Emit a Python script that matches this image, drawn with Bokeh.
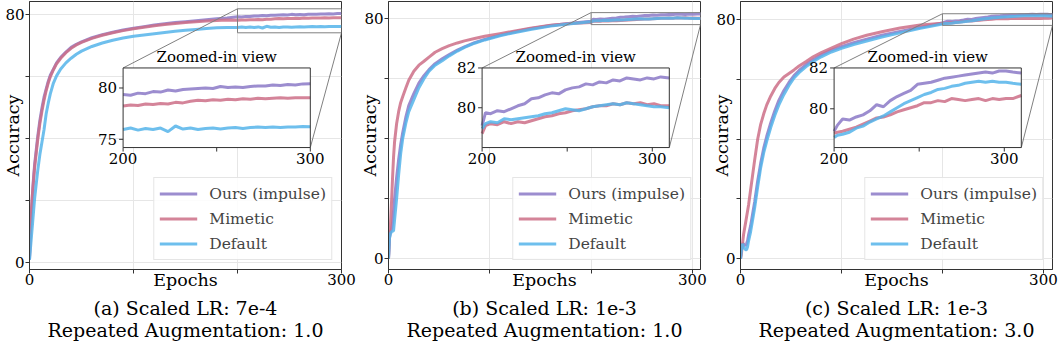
from bokeh.plotting import figure
from bokeh.models import Range1d, FixedTicker, Legend, LegendItem
from bokeh.layouts import row, column
from bokeh.embed import file_html
from bokeh.resources import INLINE
from bokeh.core.properties import value

FONT = "DejaVu Serif"
LABELS = ["Ours (impulse)", "Mimetic", "Default"]
COLORS = ["#8b79c7", "#cc6e87", "#55b4ea"]

# ---------------- panel (a) ----------------
a_epochs = [0, 1, 2, 3, 4, 5, 6, 7, 8, 10, 12, 14, 16, 18, 20, 23, 26, 30, 35, 40, 45, 50,
            60, 70, 80, 90, 100, 110, 120, 130, 140, 150, 160, 170, 180, 190,
            200, 204, 208, 212, 216, 220, 224, 228, 232, 236, 240, 244, 248, 252, 256,
            260, 264, 268, 272, 276, 280, 284, 288, 292, 296, 300]
a_ours = [1, 10, 17, 23, 28, 32, 35, 38, 41, 46, 50, 53.5, 56, 58.5, 60.5, 62.5, 64.5, 66.3, 68, 69.5, 70.5, 71.3,
          72.6, 73.6, 74.4, 75.1, 75.7, 76.2, 76.7, 77.1, 77.5, 77.8, 78.1, 78.4, 78.7, 79.0,
          79.36, 79.3, 79.5, 79.45, 79.65, 79.6, 79.8, 79.7, 79.85, 79.9, 79.95, 80.0, 79.95, 80.15, 80.05,
          80.1, 80.05, 80.15, 80.2, 80.2, 80.3, 80.25, 80.35, 80.3, 80.4, 80.42]
a_mimetic = [2, 11, 18, 23, 27, 31, 34, 37, 40, 45, 49, 52.5, 55.5, 58, 60, 62.3, 64.2, 66, 67.8, 69.2, 70.3, 71.1,
             72.4, 73.4, 74.2, 74.9, 75.5, 76.0, 76.5, 76.9, 77.2, 77.5, 77.8, 78.0, 78.2, 78.3,
             78.25, 78.35, 78.3, 78.45, 78.4, 78.5, 78.45, 78.6, 78.55, 78.7, 78.8, 78.75, 78.85, 78.8, 78.9,
             78.85, 78.95, 78.9, 79.0, 78.95, 79.0, 79.05, 79.0, 79.05, 79.05, 79.05]
a_default = [1, 5, 9, 13, 17, 21, 24, 27, 30, 35, 39, 43, 48, 51.5, 54.5, 58, 60.3, 62.5, 64.5, 66, 67.3, 68.3,
             69.8, 70.9, 71.8, 72.5, 73.1, 73.5, 73.9, 74.3, 74.7, 75.0, 75.3, 75.6, 75.8, 75.9,
             75.95, 76.1, 75.9, 76.05, 75.95, 76.1, 75.75, 76.3, 76.0, 76.1, 75.95, 76.05, 76.1, 76.0, 76.1,
             76.15, 76.05, 76.15, 76.2, 76.15, 76.2, 76.15, 76.2, 76.2, 76.25, 76.23]

# ---------------- panel (b) ----------------
b_epochs = [0, 1, 2, 3, 4, 5, 6, 8, 10, 12, 14, 17, 20, 25, 30, 35, 40, 46, 53, 60, 68, 75, 85, 95,
            110, 125, 140, 160, 180,
            200, 202, 205, 209, 213, 217, 221, 225, 229, 233, 237, 241, 245, 249, 253, 257,
            261, 265, 269, 273, 277, 281, 285, 289, 293, 297, 301, 305, 310]
b_ours = [0, 7, 9, 10, 12, 16, 20, 27, 33, 38, 42, 47, 51, 55, 58.5, 61, 63, 65, 66.6, 68, 69.5, 70.6, 72, 73.1,
          74.5, 75.6, 76.6, 77.7, 78.5,
          79.1, 79.75, 79.7, 79.85, 79.8, 79.95, 80.1, 80.2, 80.45, 80.5, 80.65, 80.75, 80.7, 80.9, 81.0, 81.05,
          81.2, 81.15, 81.3, 81.25, 81.4, 81.35, 81.5, 81.45, 81.4, 81.5, 81.45, 81.55, 81.5]
b_mimetic = [0, 8, 12, 19, 27, 34, 39, 45, 49, 52, 54, 56.8, 59.5, 62.5, 64.5, 65.8, 67.2, 68.8, 70, 71, 71.9, 72.6, 73.4, 74.1,
             75.0, 75.9, 76.8, 77.8, 78.4,
             78.7, 79.1, 79.2, 79.15, 79.3, 79.2, 79.3, 79.25, 79.35, 79.45, 79.55, 79.6, 79.7, 79.75, 79.85, 79.9,
             79.95, 80.05, 80.1, 80.1, 80.2, 80.15, 80.25, 80.2, 80.25, 80.15, 80.2, 80.1, 80.1]
b_default = [0, 7, 8.5, 9, 9.2, 9.4, 13, 20, 28, 35, 40, 45, 49, 53, 57, 60, 62.5, 64.5, 66, 67.6, 69.2, 70.4, 71.8, 72.9,
             74.3, 75.4, 76.4, 77.5, 78.3,
             78.95, 79.2, 79.3, 79.25, 79.45, 79.4, 79.45, 79.5, 79.55, 79.6, 79.7, 79.75, 79.85, 79.95, 79.9, 79.85,
             79.95, 80.05, 80.1, 80.15, 80.2, 80.15, 80.25, 80.2, 80.15, 80.1, 80.05, 80.05, 80.0]

# ---------------- panel (c) ----------------
c_epochs = [0, 1, 2, 3, 4, 5, 6, 7, 8, 10, 12, 14, 17, 20, 23, 26, 30, 34, 38, 43, 48, 53, 58, 65, 72, 80, 90,
            100, 112, 125, 140, 158, 178,
            200, 202, 205, 209, 213, 217, 221, 225, 229, 233, 237, 241, 245, 249, 253, 257,
            261, 265, 269, 273, 277, 281, 285, 289, 293, 297, 301, 305, 310]
c_ours = [0, 3, 5, 5, 4.5, 4.5, 5, 6, 8, 11, 15, 19, 26, 32, 37, 41, 45.5, 49.5, 53, 56.3, 59, 61.3, 63, 65, 66.6, 68.2, 69.8,
          71, 72.3, 73.5, 74.8, 76.1, 77.5,
          78.9, 79.2, 79.5, 79.45, 79.6, 79.7, 79.9, 80.2, 80.1, 80.4, 80.6, 80.75, 80.9, 81.2, 81.25, 81.3,
          81.4, 81.5, 81.55, 81.6, 81.65, 81.7, 81.75, 81.8, 81.75, 81.85, 81.85, 81.8, 81.75]
c_mimetic = [0, 2, 5, 8, 10, 12, 14, 16, 18, 23, 28, 33, 40, 45, 48.5, 51.5, 54.5, 57, 59, 60.8, 62, 63.2, 64.5, 66, 67.6, 69, 70.5,
             72, 73.5, 74.8, 76, 77.2, 78.2,
             78.8, 78.85, 78.9, 79.0, 79.1, 79.25, 79.4, 79.55, 79.6, 79.7, 79.85, 79.95, 80.05, 80.15, 80.3, 80.3,
             80.4, 80.35, 80.5, 80.45, 80.4, 80.45, 80.5, 80.4, 80.5, 80.45, 80.5, 80.5, 80.65]
c_default = [0, 3, 5, 4, 3.5, 3, 3, 4, 6, 9, 13, 17, 24, 30.5, 35.5, 39.4, 44, 48, 51.5, 55, 58, 60.5, 62.3, 64.3, 66, 67.6, 69.2,
             70.4, 71.7, 72.9, 74.2, 75.6, 77.1,
             78.6, 78.7, 78.75, 78.85, 79.05, 79.15, 79.35, 79.5, 79.65, 79.85, 80.05, 80.25, 80.4, 80.55, 80.7, 80.8,
             80.95, 81.0, 81.1, 81.15, 81.25, 81.3, 81.35, 81.3, 81.35, 81.3, 81.3, 81.25, 81.2]

x_ticks = [0, 100, 200, 300]
y_ticks = [0, 20, 40, 60, 80]
captions_1 = ["(a) Scaled LR: 7e-4", "(b) Scaled LR: 1e-3", "(c) Scaled LR: 1e-3"]
captions_2 = ["Repeated Augmentation: 1.0", "Repeated Augmentation: 1.0", "Repeated Augmentation: 3.0"]

FW, FH = 312, 268
FX0, FX1, FY0, FY1 = 0.3, 0.9, 0.455, 0.752
BORDERS = [(29, 16, -21), (31, 9, -19), (31, 6, -19)]   # left, right, ylabel standoff
MAIN_BOTTOM = 27
CAP_H = 50
CAP_Y1, CAP_Y2 = 11, 33   # caption centres, px below the top of the caption strip


def panel(epochs, series, xmax, yr, ix, iy, iyticks, border):
    left, right, ylab_so = border
    p = figure(frame_width=FW, frame_height=FH, x_range=Range1d(0, xmax), y_range=Range1d(*yr),
               output_backend="svg", toolbar_location=None,
               min_border_left=left, min_border_right=right, min_border_top=1,
               min_border_bottom=MAIN_BOTTOM)
    p.background_fill_color = "white"
    p.border_fill_color = "white"
    p.outline_line_color = "#333333"
    p.outline_line_width = 1

    p.xaxis.ticker = FixedTicker(ticks=x_ticks)
    p.xaxis.major_label_overrides = {100: "", 200: ""}
    p.yaxis.ticker = FixedTicker(ticks=y_ticks)
    p.yaxis.major_label_overrides = {20: "", 40: "", 60: ""}
    p.xaxis.axis_label = "Epochs"
    p.yaxis.axis_label = "Accuracy"
    for ax in (p.xaxis, p.yaxis):
        ax.axis_line_color = "#333333"
        ax.major_tick_line_color = "#333333"
        ax.major_tick_out = 4
        ax.major_tick_in = 0
        ax.minor_tick_line_color = None
        ax.major_label_text_font = FONT
        ax.major_label_text_font_size = "15px"
        ax.major_label_text_color = "black"
        ax.axis_label_text_font = FONT
        ax.axis_label_text_font_size = "17.5px"
        ax.axis_label_text_font_style = "normal"
        ax.axis_label_text_color = "black"
    p.xaxis.major_label_standoff = 0
    p.yaxis.major_label_standoff = 1
    p.xaxis.axis_label_standoff = -18
    p.yaxis.axis_label_standoff = ylab_so
    p.grid.grid_line_color = "#e6e6e6"
    p.grid.grid_line_width = 1

    x0, x1 = 0, xmax
    y0, y1 = yr
    ixspan = (ix[1] - ix[0]) / (FX1 - FX0)
    iyspan = (iy[1] - iy[0]) / (FY1 - FY0)
    ixs = ix[0] - FX0 * ixspan
    iys = iy[0] - FY0 * iyspan
    p.extra_x_ranges = {"ix": Range1d(ixs, ixs + ixspan)}
    p.extra_y_ranges = {"iy": Range1d(iys, iys + iyspan)}

    rends = []
    for vals, col in zip(series, COLORS):
        r = p.line(epochs, vals, line_color=col, line_width=3, line_alpha=0.85)
        rends.append(r)

    # zoom indicator
    rr = min(ix[1], xmax)
    p.quad(left=[ix[0]], right=[rr], bottom=[iy[0]], top=[iy[1]], fill_color=None,
           line_color="#808080", line_width=1)
    itl_x = x0 + FX0 * (x1 - x0)
    itl_y = y0 + FY1 * (y1 - y0)
    ibr_x = x0 + FX1 * (x1 - x0)
    ibr_y = y0 + FY0 * (y1 - y0)
    p.segment(x0=[ix[0], rr], y0=[iy[1], iy[0]], x1=[itl_x, ibr_x], y1=[itl_y, ibr_y],
              line_color="#808080", line_width=1)

    # inset
    p.quad(left=[ix[0]], right=[ix[1]], bottom=[iy[0]], top=[iy[1]], fill_color="white",
           line_color=None, x_range_name="ix", y_range_name="iy")
    for vals, col in zip(series, COLORS):
        xs = [e for e in epochs if e >= ix[0]]
        ys = [v for e, v in zip(epochs, vals) if e >= ix[0]]
        p.line(xs, ys, line_color=col, line_width=3, line_alpha=0.85, x_range_name="ix", y_range_name="iy")
    p.quad(left=[ix[0]], right=[ix[1]], bottom=[iy[0]], top=[iy[1]], fill_color=None,
           line_color="#333333", line_width=1, x_range_name="ix", y_range_name="iy")
    tlx = 4 * ixspan / FW
    tly = 4 * iyspan / FH
    p.segment(x0=[ix[0] - tlx] * len(iyticks), x1=[ix[0]] * len(iyticks), y0=iyticks, y1=iyticks,
              line_color="#333333", line_width=1, x_range_name="ix", y_range_name="iy")
    ixt = [200, 250, 300]
    p.segment(x0=ixt, x1=ixt, y0=[iy[0]] * 3, y1=[iy[0] - tly] * 3,
              line_color="#333333", line_width=1, x_range_name="ix", y_range_name="iy")
    p.text(x=[ix[0]] * len(iyticks), y=iyticks, text=[str(t) for t in iyticks], x_offset=-6,
           text_align="right", text_baseline="middle", text_font=value(FONT), text_font_size="15px",
           text_color="black", x_range_name="ix", y_range_name="iy")
    p.text(x=[200, 300], y=[iy[0]] * 2, text=["200", "300"], y_offset=5,
           text_align="center", text_baseline="top", text_font=value(FONT), text_font_size="15px",
           text_color="black", x_range_name="ix", y_range_name="iy")
    p.text(x=[(ix[0] + ix[1]) / 2], y=[iy[1]], text=["Zoomed-in view"], y_offset=-2,
           text_align="center", text_baseline="bottom", text_font=value(FONT), text_font_size="15px",
           text_color="black", x_range_name="ix", y_range_name="iy")

    leg = Legend(items=[LegendItem(label=l, renderers=[r]) for l, r in zip(LABELS, rends)],
                 location="bottom_right", margin=9, padding=5, spacing=4,
                 label_height=21, glyph_height=21, glyph_width=38, label_standoff=12,
                 label_text_font=FONT, label_text_font_size="15.5px",
                 border_line_color="#cccccc", border_line_width=1,
                 background_fill_color="white", background_fill_alpha=0.85)
    p.add_layout(leg)
    return p


pa = panel(a_epochs, [a_ours, a_mimetic, a_default], 300, (-2.15, 84.3), (200, 300), (74.2, 81.95),
           [75, 80], BORDERS[0])
pb = panel(b_epochs, [b_ours, b_mimetic, b_default], 308, (-3.55, 85.7), (200, 310), (78.0, 82.0),
           [80, 82], BORDERS[1])
pc = panel(c_epochs, [c_ours, c_mimetic, c_default], 309, (-3.6, 86.1), (200, 310), (78.1, 82.0),
           [80, 82], BORDERS[2])

# caption strip below the three panels (pixel coordinates)
total_w = sum(l + FW + r for l, r, _ in BORDERS)
centers = []
acc = 0
for l, r, _ in BORDERS:
    centers.append(acc + l + FW / 2)
    acc += l + FW + r
cap = figure(width=total_w, height=CAP_H, x_range=Range1d(0, total_w), y_range=Range1d(0, CAP_H),
             output_backend="svg", toolbar_location=None, min_border=0,
             x_axis_location=None, y_axis_location=None)
cap.outline_line_color = None
for g in cap.grid:
    g.visible = False
cap.text(x=centers, y=[CAP_H - CAP_Y1] * 3, text=captions_1, text_align="center", text_baseline="middle",
         text_font=value(FONT), text_font_size="19px", text_color="black")
cap.text(x=centers, y=[CAP_H - CAP_Y2] * 3, text=captions_2, text_align="center", text_baseline="middle",
         text_font=value(FONT), text_font_size="19px", text_color="black")

layout = column(row(pa, pb, pc), cap)
open("out.html", "w").write(file_html(layout, INLINE))
